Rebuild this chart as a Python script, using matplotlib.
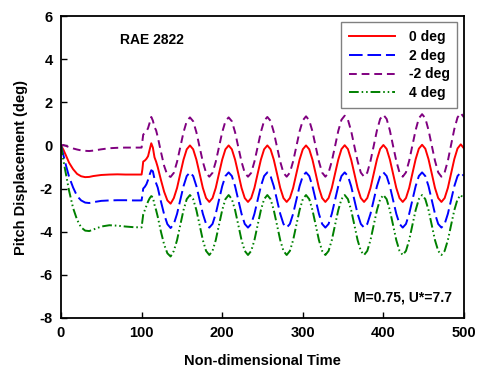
import numpy as np
import matplotlib
matplotlib.use("Agg")
import matplotlib.pyplot as plt

# time samples: transient part, then steady oscillation every 4 units
t_start = [0, 3, 6, 10, 15, 20, 25, 30, 35, 40, 50, 60, 70, 80, 90, 100,
           101, 102, 104, 106, 108, 110, 112, 114, 116, 118, 120, 124, 128, 132, 136]
t_steady = list(range(140, 501, 4))
time = t_start + t_steady

# 0 deg
red_start = [0.0, -0.2, -0.45, -0.8, -1.1, -1.32, -1.43, -1.47, -1.46, -1.42, -1.37, -1.35,
             -1.34, -1.35, -1.35, -1.35, -1.1, -0.75, -0.7, -0.62, -0.5, -0.2, 0.1, -0.1,
             -0.55, -0.75, -1.0, -1.6, -2.15, -2.55, -2.7]
red_steady = [-2.44, -1.97, -1.31, -0.66, -0.18, 0.0, -0.18, -0.66, -1.31, -1.97, -2.44, -2.62,
              -2.44, -1.97, -1.31, -0.66, -0.18, 0.0, -0.18, -0.66, -1.31, -1.97, -2.44, -2.62,
              -2.44, -1.97, -1.31, -0.66, -0.18, 0.0, -0.18, -0.66, -1.31, -1.97, -2.44, -2.62,
              -2.44, -1.97, -1.31, -0.66, -0.18, 0.0, -0.18, -0.66, -1.31, -1.97, -2.44, -2.62,
              -2.44, -1.97, -1.31, -0.66, -0.17, 0.01, -0.17, -0.66, -1.31, -1.97, -2.44, -2.62,
              -2.44, -1.97, -1.31, -0.65, -0.16, 0.02, -0.16, -0.65, -1.31, -1.97, -2.44, -2.62,
              -2.44, -1.97, -1.30, -0.64, -0.15, 0.03, -0.15, -0.64, -1.30, -1.97, -2.44, -2.62,
              -2.44, -1.97, -1.30, -0.63, -0.14, 0.05, -0.14]

# 2 deg
blue_start = [0.0, -0.45, -0.9, -1.45, -1.95, -2.35, -2.55, -2.65, -2.67, -2.63, -2.57, -2.55,
              -2.54, -2.54, -2.55, -2.55, -2.3, -2.0, -1.92, -1.8, -1.6, -1.35, -1.15, -1.2,
              -1.55, -1.75, -1.95, -2.6, -3.2, -3.65, -3.83]
blue_steady = [-3.64, -3.17, -2.53, -1.89, -1.42, -1.25, -1.42, -1.89, -2.53, -3.17, -3.64, -3.81,
               -3.64, -3.17, -2.53, -1.89, -1.42, -1.25, -1.42, -1.89, -2.53, -3.17, -3.64, -3.81,
               -3.64, -3.17, -2.53, -1.89, -1.42, -1.25, -1.42, -1.89, -2.53, -3.17, -3.64, -3.81,
               -3.64, -3.17, -2.53, -1.89, -1.42, -1.25, -1.42, -1.89, -2.53, -3.17, -3.64, -3.81,
               -3.64, -3.17, -2.53, -1.89, -1.42, -1.25, -1.42, -1.89, -2.53, -3.17, -3.64, -3.81,
               -3.64, -3.17, -2.53, -1.89, -1.42, -1.25, -1.42, -1.89, -2.53, -3.17, -3.64, -3.81,
               -3.64, -3.17, -2.53, -1.89, -1.42, -1.25, -1.42, -1.89, -2.53, -3.17, -3.64, -3.81,
               -3.64, -3.17, -2.53, -1.89, -1.42, -1.25, -1.42]

# -2 deg
purple_start = [0.0, 0.02, -0.02, -0.08, -0.14, -0.19, -0.23, -0.25, -0.26, -0.24, -0.18, -0.13,
                -0.11, -0.1, -0.1, -0.1, 0.2, 0.5, 0.58, 0.65, 0.8, 1.05, 1.32, 1.15,
                0.85, 0.7, 0.4, -0.3, -0.95, -1.38, -1.46]
purple_steady = [-1.27, -0.76, -0.08, 0.61, 1.12, 1.30, 1.12, 0.61, -0.08, -0.76, -1.27, -1.45,
                 -1.27, -0.76, -0.08, 0.61, 1.12, 1.30, 1.12, 0.61, -0.08, -0.76, -1.27, -1.45,
                 -1.27, -0.75, -0.07, 0.62, 1.14, 1.32, 1.14, 0.62, -0.07, -0.75, -1.27, -1.45,
                 -1.26, -0.74, -0.05, 0.65, 1.16, 1.35, 1.16, 0.65, -0.05, -0.74, -1.26, -1.45,
                 -1.26, -0.73, -0.04, 0.67, 1.19, 1.38, 1.19, 0.67, -0.04, -0.73, -1.26, -1.45,
                 -1.26, -0.72, -0.02, 0.70, 1.23, 1.42, 1.23, 0.70, -0.02, -0.72, -1.26, -1.45,
                 -1.25, -0.71, 0.00, 0.71, 1.26, 1.45, 1.26, 0.71, 0.00, -0.71, -1.25, -1.45,
                 -1.25, -0.71, 0.03, 0.76, 1.30, 1.50, 1.30]

# 4 deg
green_start = [0.0, -0.7, -1.3, -2.1, -2.9, -3.45, -3.8, -3.95, -3.97, -3.9, -3.76, -3.7,
               -3.72, -3.76, -3.79, -3.8, -3.5, -3.2, -3.0, -2.8, -2.6, -2.45, -2.35, -2.4,
               -2.75, -3.0, -3.3, -4.0, -4.6, -5.0, -5.15]
green_steady = [-4.89, -4.39, -3.69, -3.0, -2.49, -2.3, -2.49, -3.0, -3.69, -4.39, -4.89, -5.08,
                -4.89, -4.39, -3.69, -3.0, -2.49, -2.3, -2.49, -3.0, -3.69, -4.39, -4.89, -5.08,
                -4.89, -4.39, -3.69, -3.0, -2.49, -2.3, -2.49, -3.0, -3.69, -4.39, -4.89, -5.08,
                -4.89, -4.39, -3.69, -3.0, -2.49, -2.3, -2.49, -3.0, -3.69, -4.39, -4.89, -5.08,
                -4.89, -4.39, -3.69, -3.0, -2.49, -2.3, -2.49, -3.0, -3.69, -4.39, -4.89, -5.08,
                -4.89, -4.39, -3.69, -3.0, -2.49, -2.3, -2.49, -3.0, -3.69, -4.39, -4.89, -5.08,
                -4.89, -4.39, -3.69, -3.0, -2.49, -2.3, -2.49, -3.0, -3.69, -4.39, -4.89, -5.08,
                -4.89, -4.39, -3.69, -3.0, -2.49, -2.3, -2.49]

labels = ["0 deg", "2 deg", "-2 deg", "4 deg"]
xticks = [0, 100, 200, 300, 400, 500]
yticks = [-8, -6, -4, -2, 0, 2, 4, 6]


def main():
    plt.rcParams['font.family'] = ['Liberation Sans', 'DejaVu Sans']
    plt.rcParams['font.weight'] = 'bold'
    plt.rcParams['axes.unicode_minus'] = False

    fig = plt.figure(figsize=(4.78, 3.76), dpi=100)
    ax = fig.add_axes([0.1276, 0.1543, 0.8431, 0.8031])

    lw = 1.4
    ax.plot(time, red_start + red_steady, color='#ff0000', lw=lw, label=labels[0])
    ax.plot(time, blue_start + blue_steady, color='#0000ff', lw=lw,
            dashes=(7, 2.5), label=labels[1])
    ax.plot(time, purple_start + purple_steady, color='#800080', lw=lw,
            dashes=(4, 2.5), label=labels[2])
    ax.plot(time, green_start + green_steady, color='#008000', lw=lw,
            dashes=(5, 1.5, 0.8, 1.5, 0.8, 1.5), label=labels[3])

    ax.set_xlim(0, 500)
    ax.set_ylim(-8, 6)
    ax.set_xticks(xticks)
    ax.set_yticks(yticks)
    ax.tick_params(direction='in', length=4, width=1, labelsize=10.5,
                   top=False, right=False, pad=6)
    for s in ax.spines.values():
        s.set_linewidth(1.3)

    ax.set_xlabel('Non-dimensional Time', fontsize=10.5, fontweight='bold', labelpad=10)
    ax.set_ylabel('Pitch Displacement (deg)', fontsize=10.5, fontweight='bold', labelpad=8)

    ax.text(113, 4.89, 'RAE 2822', ha='center', va='center', fontsize=10, fontweight='bold')
    ax.text(485, -7.03, 'M=0.75, U*=7.7', ha='right', va='center', fontsize=10,
            fontweight='bold')

    leg = ax.legend(loc='upper right', bbox_to_anchor=(0.983, 0.980), borderaxespad=0,
                    fontsize=10, fancybox=False, framealpha=1, edgecolor='#808080',
                    handlelength=3.3, handletextpad=1.0, borderpad=0.55,
                    labelspacing=0.35)
    leg.get_frame().set_linewidth(1.0)
    for txt in leg.get_texts():
        txt.set_fontweight('bold')

    fig.savefig('out.png', dpi=100)


if __name__ == "__main__":
    main()
